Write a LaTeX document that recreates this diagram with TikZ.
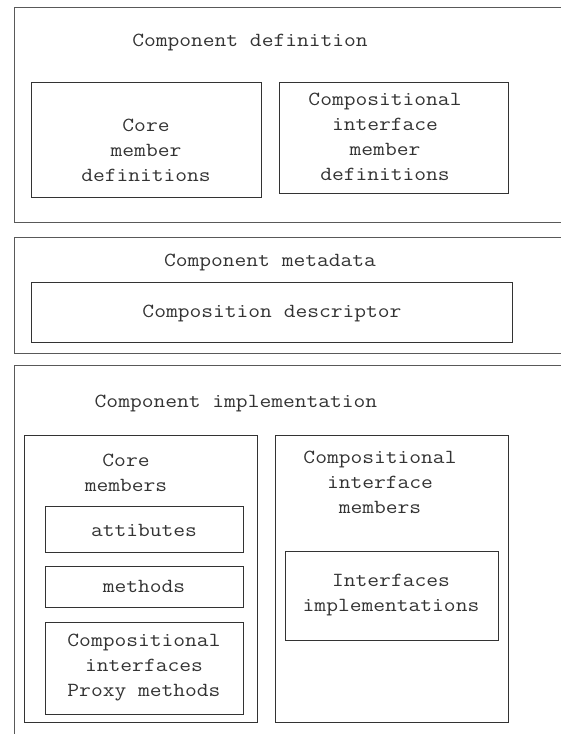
\documentclass[tikz,border=0pt]{standalone}
\usepackage{fontspec}
\setmonofont[FakeStretch=1.143]{Latin Modern Mono}
\begin{document}
\begin{tikzpicture}[x=1pt,y=-1pt,
  frame/.style={draw=black!65, line width=1pt},
  box/.style={draw=black!80, line width=1pt, rectangle, inner sep=0pt},
  lbl/.style={inner sep=0pt, align=center, text=black!80, font=\ttfamily\fontsize{20}{25}\selectfont}]
\useasboundingbox (0,0) rectangle (561,734);
% outer frames (open at right / bottom)
\coordinate (f1a) at (561,7);
\coordinate (f1b) at (14,7);
\coordinate (f1c) at (14,222);
\coordinate (f1d) at (561,222);
\draw[frame] (f1a) -- (f1b) -- (f1c) -- (f1d);
\coordinate (f2a) at (561,237);
\coordinate (f2b) at (14,237);
\coordinate (f2c) at (14,353);
\coordinate (f2d) at (561,353);
\draw[frame] (f2a) -- (f2b) -- (f2c) -- (f2d);
\coordinate (f3a) at (561,365);
\coordinate (f3b) at (14,365);
\coordinate (f3c) at (14,734);
\draw[frame] (f3a) -- (f3b) -- (f3c);
% boxes
\node[box, minimum width=230pt, minimum height=115pt] (cdcore) at (146,139.5) {};
\node[box, minimum width=229pt, minimum height=111pt] (cdcomp) at (393.5,137.5) {};
\node[box, minimum width=481pt, minimum height=60pt] (mddesc) at (271.5,312) {};
\node[box, minimum width=233pt, minimum height=287pt] (cicore) at (140.5,578.5) {};
\node[box, minimum width=233pt, minimum height=287pt] (cicomp) at (391.5,578.5) {};
\node[box, minimum width=198pt, minimum height=46pt] (attr) at (144,529) {};
\node[box, minimum width=198pt, minimum height=41pt] (meth) at (144,586.5) {};
\node[box, minimum width=198pt, minimum height=92pt] (proxy) at (144,668) {};
\node[box, minimum width=213pt, minimum height=89pt] (ifimpl) at (391.5,595.5) {};
% labels
\node[lbl] (tdef) at (250,42) {Component definition};
\node[lbl] (tcore) at (146,150) {Core\\member\\definitions};
\node[lbl] (tcomp) at (385,137) {Compositional\\interface\\member\\definitions};
\node[lbl] (tmeta) at (270,262) {Component metadata};
\node[lbl] (tdesc) at (272,313) {Composition descriptor};
\node[lbl] (timpl) at (236,403) {Component implementation};
\node[lbl] (tcm) at (126,472.5) {Core\\members};
\node[lbl] (tcim) at (380,482) {Compositional\\interface\\members};
\node[lbl] (tattr) at (144,530) {attibutes};
\node[lbl] (tmeth) at (144,586) {methods};
\node[lbl] (tproxy) at (144,668) {Compositional\\interfaces\\Proxy methods};
\node[lbl] (tifimpl) at (391,595.5) {Interfaces\\implementations};
\end{tikzpicture}
\end{document}
